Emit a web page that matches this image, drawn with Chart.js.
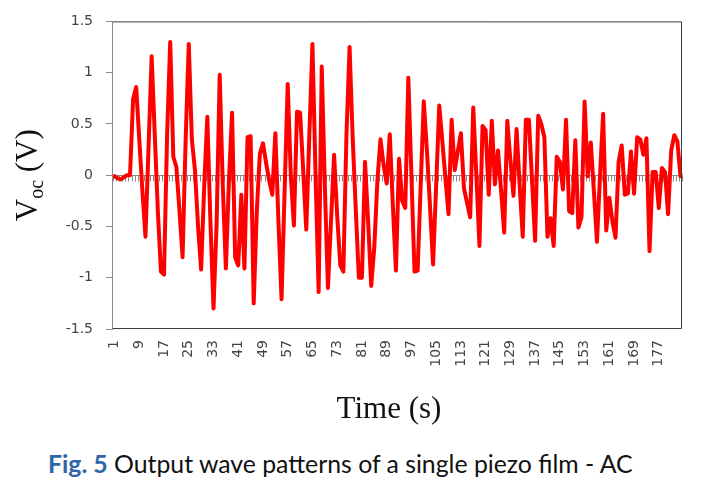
<!DOCTYPE html>
<html>
<head>
<meta charset="utf-8">
<script src="https://cdn.jsdelivr.net/npm/chart.js@4.4.1/dist/chart.umd.min.js"></script>
<style>
  body { margin: 0; background: #fff; }
  #wrap { position: relative; width: 702px; height: 488px; }
  #box { position: absolute; left: 0; top: 0; width: 702px; height: 440px; }
  #caption { position: absolute; left: 48px; top: 449px; font-family: Lato, "Noto Sans", sans-serif; font-size: 24.8px; color: #111; white-space: nowrap; }
  #caption b { color: #2f66a8; font-weight: 700; }
</style>
</head>
<body>
<div id="wrap">
  <div id="box"><canvas id="myChart"></canvas></div>
  <div id="caption"><b>Fig. 5</b> Output wave patterns of a single piezo film - AC</div>
</div>
<script>
//Tick labels for the time axis (1 ... 184 s)
var timeLabels = [];
for (var i = 1; i <= 184; i++) timeLabels.push(String(i));

//Open circuit voltage (V)
var vocData = [
  -0.01, -0.03, -0.04, -0.02, 0.00, 0.00, 0.74, 0.86, 0.35, -0.15,
  -0.60, 0.28, 1.16, 0.40, -0.35, -0.94, -0.97, 0.40, 1.30, 0.18,
  0.08, -0.35, -0.80, 0.35, 1.28, 0.35, 0.05, -0.50, -0.92, -0.10,
  0.57, -0.45, -1.30, -0.48, 0.98, -0.10, -0.91, -0.05, 0.61, -0.80,
  -0.88, -0.19, -0.91, 0.37, 0.38, -1.25, -0.35, 0.21, 0.31, 0.12,
  -0.05, -0.19, 0.41, -0.45, -1.21, -0.15, 0.89, 0.00, -0.49, 0.62,
  0.61, 0.05, -0.53, 0.40, 1.28, 0.00, -1.14, 1.06, -0.10, -1.10,
  -0.45, 0.20, -0.40, -0.88, -0.94, 0.40, 1.25, 0.37, -0.33, -1.00,
  -1.00, 0.13, -0.45, -1.08, -0.70, -0.05, 0.35, 0.10, -0.08, 0.40,
  -0.30, -0.93, 0.16, -0.25, -0.32, 0.95, 0.00, -0.94, -0.93, -0.10,
  0.72, 0.25, -0.30, -0.87, -0.10, 0.68, 0.33, -0.03, -0.38, 0.54,
  0.05, 0.23, 0.41, -0.13, -0.27, -0.41, 0.66, 0.00, -0.69, 0.48,
  0.44, -0.19, 0.53, -0.09, 0.24, -0.15, -0.56, 0.53, 0.15, -0.20,
  0.45, -0.10, -0.60, 0.54, 0.54, -0.05, -0.64, 0.58, 0.50, 0.37,
  -0.60, -0.42, -0.69, 0.18, 0.13, -0.14, 0.54, -0.35, -0.37, 0.34,
  -0.51, -0.41, 0.72, -0.01, 0.32, -0.15, -0.65, 0.00, 0.60, -0.54,
  -0.22, -0.45, -0.61, 0.13, 0.29, -0.19, -0.18, 0.23, -0.18, 0.37,
  0.35, 0.20, 0.36, -0.74, 0.03, 0.03, -0.32, 0.07, 0.03, -0.38,
  0.24, 0.39, 0.33, -0.01
];

//Y axis range and step
var yMin = -1.5;
var yMax = 1.5;
var yStep = 0.5;

//Axis titles
var xTitle = "Time (s)";
var yTitleMain = "V";
var yTitleSub = "oc";
var yTitleUnit = " (V)";

//Frame, zero line with small ticks, and the two axis titles
var decorPlugin = {
  id: 'decor',
  beforeDatasetsDraw: function(chart) {
    var ctx = chart.ctx;
    var a = chart.chartArea;
    var xs = chart.scales.x;
    var y0 = Math.round(chart.scales.y.getPixelForValue(0)) + 0.5;
    ctx.save();
    ctx.strokeStyle = '#8a8a8a';
    ctx.lineWidth = 1;
    ctx.beginPath();
    ctx.moveTo(a.left, y0);
    ctx.lineTo(a.right, y0);
    var half = (xs.getPixelForValue(1) - xs.getPixelForValue(0)) / 2;
    for (var i = 0; i <= timeLabels.length; i++) {
      var px = Math.round(xs.getPixelForValue(i) - half) + 0.5;
      ctx.moveTo(px, y0);
      ctx.lineTo(px, y0 + 6);
    }
    ctx.stroke();
    ctx.restore();
  },
  afterDraw: function(chart) {
    var ctx = chart.ctx;
    var a = chart.chartArea;
    ctx.save();
    //plot frame
    ctx.strokeStyle = '#3c3c3c';
    ctx.lineWidth = 1;
    ctx.beginPath();
    ctx.moveTo(a.left, a.top + 0.5);
    ctx.lineTo(a.right - 0.5, a.top + 0.5);
    ctx.lineTo(a.right - 0.5, a.bottom - 0.5);
    ctx.lineTo(a.left, a.bottom - 0.5);
    ctx.stroke();
    ctx.strokeStyle = '#8a8a8a';
    ctx.beginPath();
    ctx.moveTo(a.left - 0.5, a.top);
    ctx.lineTo(a.left - 0.5, a.bottom);
    ctx.stroke();

    //x title
    ctx.fillStyle = '#111';
    ctx.font = '31px "Liberation Serif", "DejaVu Serif", serif';
    ctx.textAlign = 'center';
    ctx.textBaseline = 'alphabetic';
    ctx.fillText(xTitle, 389, 418);

    //y title with subscript, rotated
    var mainFont = '31px "Liberation Serif", "DejaVu Serif", serif';
    var subFont = '20px "Liberation Serif", "DejaVu Serif", serif';
    ctx.font = mainFont;
    var w1 = ctx.measureText(yTitleMain).width;
    var w3 = ctx.measureText(yTitleUnit).width;
    ctx.font = subFont;
    var w2 = ctx.measureText(yTitleSub).width;
    var total = w1 + w2 + w3;
    ctx.translate(37, (a.top + a.bottom) / 2);
    ctx.rotate(-Math.PI / 2);
    ctx.textAlign = 'left';
    var sx = -total / 2;
    ctx.font = mainFont;
    ctx.fillText(yTitleMain, sx, 0);
    ctx.font = subFont;
    ctx.fillText(yTitleSub, sx + w1, 6);
    ctx.font = mainFont;
    ctx.fillText(yTitleUnit, sx + w1 + w2, 0);
    ctx.restore();
  }
};

var data = {
  labels: timeLabels,
  datasets: [
    {
      data: vocData,
      borderColor: "#ff0000",
      backgroundColor: "#ff0000",
      borderWidth: 4,
      borderJoinStyle: 'round',
      borderCapStyle: 'round',
      pointRadius: 0,
      tension: 0,
      fill: false
    }
  ]
};

var config = {
  type: "line",
  data: data,
  plugins: [decorPlugin],
  options: {
    responsive: true,
    maintainAspectRatio: false,
    animation: false,
    layout: {
      padding: { top: 16, right: 20, left: 0, bottom: 0 }
    },
    plugins: {
      legend: { display: false },
      tooltip: { enabled: false }
    },
    scales: {
      x: {
        type: 'category',
        offset: true,
        grid: { display: false },
        border: { display: false },
        afterFit: function(scale) { scale.height = 111; },
        ticks: {
          autoSkip: false,
          maxRotation: 90,
          minRotation: 90,
          padding: 3,
          color: '#444',
          font: { family: '"DejaVu Sans", sans-serif', size: 14 },
          callback: function(val, idx) {
            return idx % 8 === 0 ? timeLabels[idx] : '';
          }
        }
      },
      y: {
        min: yMin,
        max: yMax,
        grid: {
          drawOnChartArea: false,
          drawTicks: true,
          tickLength: 7,
          color: '#8a8a8a'
        },
        border: { display: false },
        afterFit: function(scale) { scale.width = 113; },
        ticks: {
          stepSize: yStep,
          padding: 13,
          color: '#444',
          font: { family: '"DejaVu Sans", sans-serif', size: 14 },
          callback: function(val) { return String(Math.round(val * 10) / 10); }
        }
      }
    }
  }
};

//Build the chart
var canvas = document.getElementById('myChart').getContext('2d');
var myChart = new Chart(canvas, config);
</script>
</body>
</html>
